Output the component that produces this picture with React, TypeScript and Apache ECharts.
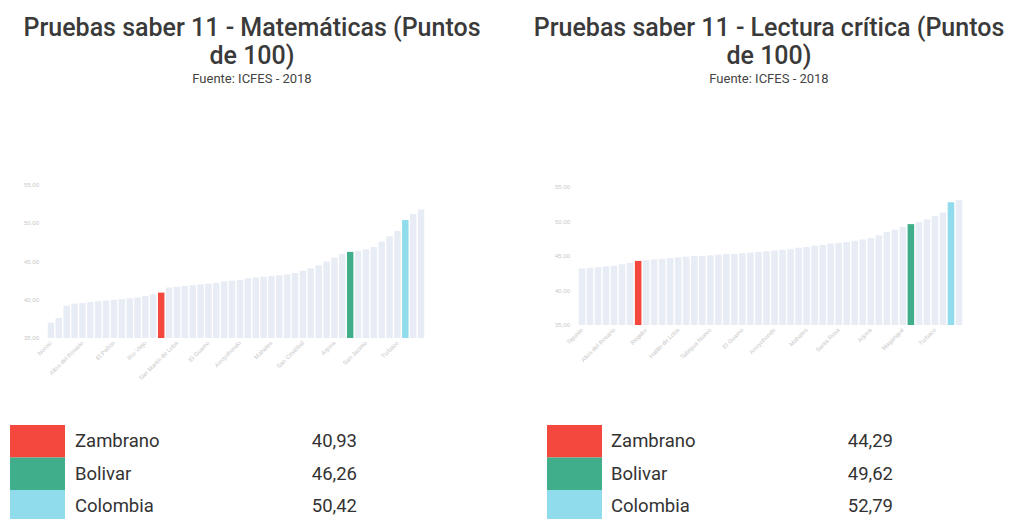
import React, { useEffect, useRef } from "react";
import * as echarts from "echarts";

// ---------- DATA ----------
const mathCategories = [
  "Norosí", "Tiquisio", "Montecristo", "Barranco de Loba", "Altos del Rosario", "Pinillos", "Achí",
  "Regidor", "El Peñón", "Hatillo de Loba", "San Jacinto del Cauca", "Arenal", "Río Viejo", "Cantagallo",
  "Zambrano", "Margarita", "San Martín de Loba", "Talaigua Nuevo", "Cicuco", "Córdoba", "El Guamo",
  "Soplaviento", "San Fernando", "Morales", "Arroyohondo", "San Estanislao", "Calamar", "María la Baja",
  "Mahates", "Santa Catalina", "Clemencia", "Villanueva", "San Cristóbal", "Santa Rosa", "Simití",
  "San Pablo", "Arjona", "Turbaná", "Bolivar", "San Juan Nepomuceno", "San Jacinto", "Magangué",
  "El Carmen de Bolívar", "Santa Rosa del Sur", "Turbaco", "Colombia", "Mompós", "Cartagena",
];
const mathValues = [
  37.0, 37.6, 39.2, 39.5, 39.6, 39.7, 39.8, 39.9, 40.0, 40.1, 40.2, 40.3, 40.5, 40.7,
  40.93, 41.6, 41.7, 41.8, 41.9, 42.0, 42.1, 42.2, 42.4, 42.5, 42.6, 42.8, 42.9, 43.0,
  43.1, 43.2, 43.3, 43.5, 43.8, 44.1, 44.5, 45.0, 45.5, 46.0, 46.26, 46.4, 46.6, 46.9,
  47.6, 48.3, 49.0, 50.42, 51.2, 51.8,
];

const readCategories = [
  "Tiquisio", "Norosí", "Achí", "Montecristo", "Altos del Rosario", "Pinillos", "Barranco de Loba",
  "Zambrano", "Regidor", "El Peñón", "Arenal", "Río Viejo", "Hatillo de Loba", "San Jacinto del Cauca",
  "Cantagallo", "Margarita", "Talaigua Nuevo", "San Martín de Loba", "Córdoba", "Cicuco", "El Guamo",
  "Morales", "Soplaviento", "San Fernando", "Arroyohondo", "Calamar", "San Estanislao", "María la Baja",
  "Mahates", "Santa Catalina", "Clemencia", "Villanueva", "Santa Rosa", "San Cristóbal", "Simití",
  "San Pablo", "Arjona", "Turbaná", "San Juan Nepomuceno", "San Jacinto", "Magangué", "Bolivar",
  "El Carmen de Bolívar", "Santa Rosa del Sur", "Turbaco", "Mompós", "Colombia", "Cartagena",
];
const readValues = [
  43.2, 43.3, 43.4, 43.5, 43.6, 43.8, 44.0, 44.29, 44.4, 44.5, 44.6, 44.7, 44.8, 44.9,
  45.0, 45.0, 45.1, 45.2, 45.3, 45.3, 45.4, 45.5, 45.6, 45.7, 45.8, 45.9, 46.0, 46.2,
  46.3, 46.5, 46.6, 46.8, 46.9, 47.0, 47.2, 47.4, 47.6, 48.0, 48.5, 48.8, 49.2, 49.62,
  49.9, 50.3, 50.8, 51.3, 52.79, 53.1,
];

const highlightNames = ["Zambrano", "Bolivar", "Colombia"];
const highlightColors = ["#f4473e", "#40ae8a", "#90dcec"];
const mathLegendValues = [40.93, 46.26, 50.42];
const readLegendValues = [44.29, 49.62, 52.79];

const titles = [
  "Pruebas saber 11 - Matemáticas (Puntos\nde 100)",
  "Pruebas saber 11 - Lectura crítica (Puntos\nde 100)",
];
const subtitle = "Fuente: ICFES - 2018";

const yMin = 35;
const yMax = 55;
const yInterval = 5;

// ---------- HELPERS ----------
const baseColor = "#e8ecf5";
const fmt = (v: number) => v.toFixed(2).replace(".", ",");

function buildData(cats: string[], vals: number[]) {
  return vals.map((v, i) => {
    const h = highlightNames.indexOf(cats[i]);
    return {
      name: cats[i],
      value: v,
      itemStyle: { color: h >= 0 ? highlightColors[h] : baseColor },
    };
  });
}

function legendGraphics(x: number, labelX: number, valueX: number, vals: number[]) {
  const els: any[] = [];
  const top = 425;
  const rowH = 32.5;
  highlightNames.forEach((n, i) => {
    els.push({
      type: "rect",
      shape: { x, y: top + i * rowH, width: 55, height: rowH },
      style: { fill: highlightColors[i] },
    });
    els.push({
      type: "text",
      x: labelX,
      y: top + i * rowH + rowH / 2,
      style: {
        text: n,
        fill: "#333",
        font: "18.5px Roboto, Arial, sans-serif",
        verticalAlign: "middle",
        textAlign: "left",
      },
    });
    els.push({
      type: "text",
      x: valueX,
      y: top + i * rowH + rowH / 2,
      style: {
        text: fmt(vals[i]),
        fill: "#333",
        font: "18.5px Roboto, Arial, sans-serif",
        verticalAlign: "middle",
        textAlign: "right",
      },
    });
  });
  return els;
}

export default function App() {
  const ref = useRef<HTMLDivElement>(null);
  useEffect(() => {
    if (!ref.current) return;
    const chart = echarts.init(ref.current, undefined, { renderer: "svg" });
    const xAxisCommon = {
      type: "category",
      axisLine: { show: false },
      axisTick: { show: false },
      axisLabel: { rotate: 45, fontSize: 6, color: "#c8c8c8", interval: 3, margin: 4 },
    };
    const yAxisCommon = {
      type: "value",
      min: yMin,
      max: yMax,
      interval: yInterval,
      axisLine: { show: false },
      axisTick: { show: false },
      splitLine: { show: false },
      axisLabel: { fontSize: 6, color: "#c8c8c8", formatter: (v: number) => fmt(v), margin: 8 },
    };
    const titleStyle = { fontFamily: "Roboto", fontSize: 25, fontWeight: 500, color: "#3a3a3a", lineHeight: 28 };
    const subStyle = { fontFamily: "Roboto", fontSize: 13, color: "#444" };
    chart.setOption({
      animation: false,
      backgroundColor: "#fff",
      title: [
        {
          text: titles[0],
          subtext: subtitle,
          left: 247,
          top: 8,
          textAlign: "center",
          textStyle: titleStyle,
          subtextStyle: subStyle,
          itemGap: 3,
        },
        {
          text: titles[1],
          subtext: subtitle,
          left: 764,
          top: 8,
          textAlign: "center",
          textStyle: titleStyle,
          subtextStyle: subStyle,
          itemGap: 3,
        },
      ],
      grid: [
        { left: 47, top: 185, width: 378, height: 153 },
        { left: 578, top: 187, width: 385, height: 138 },
      ],
      xAxis: [
        { ...xAxisCommon, gridIndex: 0, data: mathCategories },
        { ...xAxisCommon, gridIndex: 1, data: readCategories },
      ],
      yAxis: [
        { ...yAxisCommon, gridIndex: 0 },
        { ...yAxisCommon, gridIndex: 1 },
      ],
      series: [
        {
          type: "bar",
          xAxisIndex: 0,
          yAxisIndex: 0,
          barCategoryGap: "18%",
          data: buildData(mathCategories, mathValues),
        },
        {
          type: "bar",
          xAxisIndex: 1,
          yAxisIndex: 1,
          barCategoryGap: "18%",
          data: buildData(readCategories, readValues),
        },
      ],
      graphic: [
        ...legendGraphics(10, 75, 357, mathLegendValues),
        ...legendGraphics(547, 611, 893, readLegendValues),
      ],
    });
    return () => chart.dispose();
  }, []);
  return (
    <div
      ref={ref}
      style={{ position: "fixed", left: 0, top: 0, width: 1012, height: 519, background: "#fff" }}
    />
  );
}
